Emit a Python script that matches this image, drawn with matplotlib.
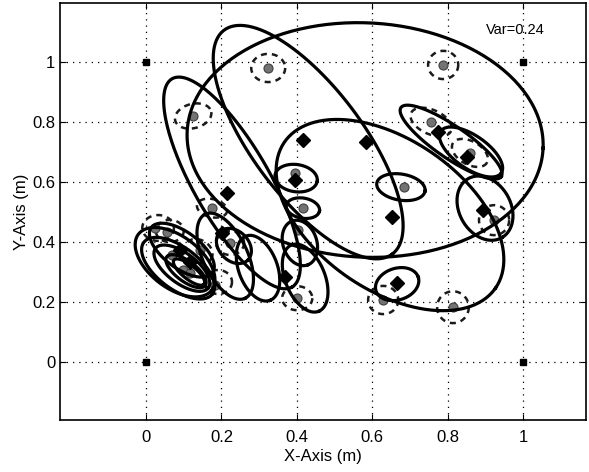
import numpy as np
import matplotlib.pyplot as plt

plt.rcParams['font.family'] = ['Liberation Sans', 'DejaVu Sans']

# anchors at the corners of the unit square
anchorX = [0, 0, 1, 1]
anchorY = [0, 1, 0, 1]

# estimated landmark positions (grey dots)
dotX = [0.324, 0.788, 0.125, 0.756, 0.859, 0.395, 0.416, 0.403, 0.401, 0.684,
        0.923, 0.629, 0.814, 0.175, 0.223, 0.024, 0.056, 0.098, 0.117, 0.143,
        0.183, 0.069]
dotY = [0.980, 0.990, 0.820, 0.800, 0.697, 0.630, 0.513, 0.440, 0.213, 0.583,
        0.473, 0.207, 0.183, 0.513, 0.397, 0.447, 0.433, 0.307, 0.297, 0.373,
        0.257, 0.357]

# robot poses (diamonds)
diaX = [0.416, 0.584, 0.653, 0.215, 0.666, 0.395, 0.202, 0.775, 0.851, 0.894,
        0.369, 0.090, 0.117]
diaY = [0.740, 0.733, 0.483, 0.563, 0.263, 0.607, 0.430, 0.767, 0.683, 0.507,
        0.283, 0.373, 0.333]

# solid covariance ellipses: centre and two conjugate semi-axes
ellCX = [0.581, 0.647, 0.430, 0.228, 0.398, 0.416, 0.676, 0.809, 0.862, 0.899,
         0.666, 0.422, 0.408, 0.210, 0.233, 0.085, 0.095, 0.106, 0.297, 0.095,
         0.077, 0.114]
ellCY = [0.740, 0.490, 0.733, 0.597, 0.613, 0.513, 0.583, 0.733, 0.700, 0.513,
         0.260, 0.280, 0.397, 0.353, 0.387, 0.313, 0.313, 0.303, 0.313, 0.373,
         0.333, 0.300]
ellUX = [0.472, 0.280, 0.223, 0.159, 0.056, 0.044, 0.064, 0.133, 0.080, 0.045,
         0.056, 0.037, 0.021, 0.053, 0.037, 0.091, 0.070, 0.051, 0.032, 0.081,
         0.098, 0.040]
ellUY = [-0.027, -0.243, -0.373, -0.347, -0.010, -0.010, -0.013, -0.115, -0.070, -0.098,
         0.023, -0.110, -0.073, -0.140, -0.047, -0.086, -0.066, -0.048, -0.107, -0.076,
         -0.092, -0.040]
ellVX = [-0.013, 0.113, 0.117, 0.087, -0.005, -0.005, -0.005, 0.024, 0.025, 0.059,
         0.013, 0.048, 0.042, 0.053, 0.028, 0.033, 0.024, 0.016, 0.048, 0.029,
         0.040, 0.011]
ellVY = [-0.390, 0.206, 0.110, 0.063, -0.045, -0.033, -0.043, 0.044, 0.045, 0.043,
         -0.050, 0.027, 0.020, 0.032, 0.035, 0.056, 0.040, 0.027, 0.023, 0.048,
         0.070, 0.018]

# dashed rings round some of the landmarks
ringCX = [0.324, 0.788, 0.125, 0.756, 0.859, 0.401, 0.629, 0.814, 0.175, 0.923,
          0.032, 0.191, 0.223, 0.063, 0.140]
ringCY = [0.980, 0.990, 0.820, 0.800, 0.697, 0.213, 0.207, 0.183, 0.513, 0.473,
          0.447, 0.267, 0.397, 0.437, 0.370]
ringUX = [0.045, 0.040, 0.048, 0.053, 0.045, 0.040, 0.040, 0.042, 0.040, 0.040,
          0.042, 0.037, 0.037, 0.037, 0.035]
ringUY = [0.0, 0.0, 0.013, -0.030, -0.033, 0.0, 0.0, 0.0, -0.010, 0.0,
          0.0, 0.0, 0.0, 0.0, -0.020]
ringVX = [0.0, 0.0, 0.005, -0.013, -0.016, 0.0, 0.0, 0.0, -0.003, 0.0,
          0.0, 0.0, 0.0, 0.0, -0.010]
ringVY = [-0.047, -0.047, -0.040, -0.037, -0.033, -0.040, -0.047, -0.053, -0.030, -0.050,
          -0.043, -0.040, -0.040, -0.037, -0.035]


def ellipsePoints(cx, cy, ux, uy, vx, vy, n=240):
    t = np.linspace(0, 2*np.pi, n)
    return cx + ux*np.cos(t) + vx*np.sin(t), cy + uy*np.cos(t) + vy*np.sin(t)


fig = plt.figure(figsize=(5.89, 4.72), dpi=100)
ax = fig.add_axes([0.102, 0.110, 0.893, 0.884])

for i in range(len(ringCX)):
    ex, ey = ellipsePoints(ringCX[i], ringCY[i], ringUX[i], ringUY[i], ringVX[i], ringVY[i])
    ax.plot(ex, ey, color='0.1', lw=1.8, linestyle=(0, (2.4, 2.0)), zorder=3)

ax.plot(dotX, dotY, 'o', ms=6.5, markerfacecolor='0.45', markeredgecolor='0.25',
        markeredgewidth=0.8, linestyle='none', zorder=4)

for i in range(len(ellCX)):
    ex, ey = ellipsePoints(ellCX[i], ellCY[i], ellUX[i], ellUY[i], ellVX[i], ellVY[i])
    ax.plot(ex, ey, color='k', lw=2.3, zorder=5)

ax.plot(diaX, diaY, 'D', ms=7.5, color='k', linestyle='none', zorder=6)
ax.plot(anchorX, anchorY, 's', ms=5, color='k', linestyle='none', zorder=6)

ax.set_xlim(-0.228, 1.167)
ax.set_ylim(-0.193, 1.197)
ax.set_xticks([0, 0.2, 0.4, 0.6, 0.8, 1])
ax.set_xticklabels(['0', '0.2', '0.4', '0.6', '0.8', '1'])
ax.set_yticks([0, 0.2, 0.4, 0.6, 0.8, 1])
ax.set_yticklabels(['0', '0.2', '0.4', '0.6', '0.8', '1'])
ax.tick_params(direction='in', top=True, right=True, labelsize=12, length=4)
ax.tick_params(axis='x', pad=7)
ax.grid(True, color='k', linestyle=(0, (1, 4)), lw=0.9)
for s in ax.spines.values():
    s.set_linewidth(1.2)

ax.set_xlabel('X-Axis (m)', fontsize=12, labelpad=3)
ax.set_ylabel('Y-Axis (m)', fontsize=12, labelpad=2)
ax.text(0.98, 1.107, 'Var=0.24', fontsize=10.5, ha='center', va='center')

fig.savefig('out.png', dpi=100)
